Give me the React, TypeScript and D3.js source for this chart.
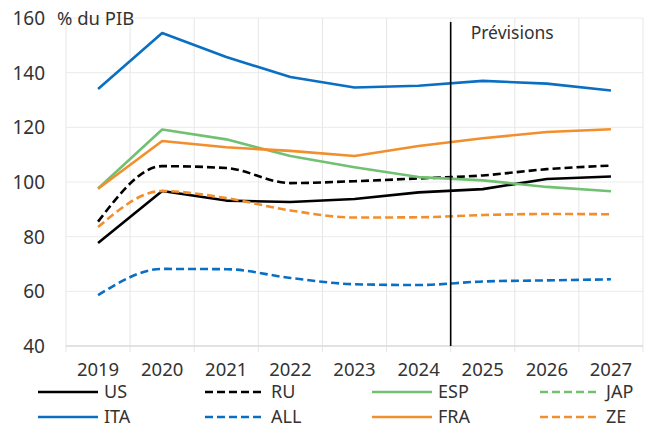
import { useEffect, useRef } from 'react';
import * as d3 from 'd3';

// valeurs (% du PIB)
const years = ['2019', '2020', '2021', '2022', '2023', '2024', '2025', '2026', '2027'];
const usValues = [77.7, 96.7, 93.2, 92.7, 93.8, 96.2, 97.4, 101.1, 102.0];
const ruValues = [85.5, 105.8, 105.1, 99.6, 100.3, 101.3, 102.4, 104.7, 106.0];
const espValues = [97.6, 119.2, 115.6, 109.5, 105.4, 101.8, 100.6, 98.2, 96.6];
const japValues = [236, 258, 253, 260, 255, 251, 248, 245, 243];
const itaValues = [134.0, 154.5, 145.7, 138.4, 134.6, 135.2, 137.0, 136.0, 133.5];
const allValues = [58.6, 68.2, 68.1, 64.9, 62.6, 62.3, 63.6, 64.0, 64.4];
const fraValues = [97.5, 115.0, 112.7, 111.4, 109.5, 113.2, 116.0, 118.3, 119.3];
const zeValues = [83.5, 96.7, 94.1, 89.6, 87.0, 87.1, 87.9, 88.3, 88.2];
const yTicks = [40, 60, 80, 100, 120, 140, 160];

const series = [
  { name: 'US', values: usValues, color: '#000000', dashed: false },
  { name: 'RU', values: ruValues, color: '#000000', dashed: true },
  { name: 'ESP', values: espValues, color: '#72C172', dashed: false },
  { name: 'JAP', values: japValues, color: '#72C172', dashed: true },
  { name: 'ITA', values: itaValues, color: '#0A6FC2', dashed: false },
  { name: 'ALL', values: allValues, color: '#0A6FC2', dashed: true },
  { name: 'FRA', values: fraValues, color: '#F28E2B', dashed: false },
  { name: 'ZE', values: zeValues, color: '#F28E2B', dashed: true },
];

const FONT = '"Noto Sans", sans-serif';
const TEXT = '#333333';

function DebtChart() {
  const svgRef = useRef<SVGSVGElement>(null);

  useEffect(() => {
    const width = 654;
    const height = 428;
    const left = 66, right = 643, top = 18, bottom = 346;

    const svg = d3.select(svgRef.current)
      .attr('width', width)
      .attr('height', height);
    svg.selectAll('*').remove();

    const x = d3.scaleBand().domain(years).range([left, right]);
    const y = d3.scaleLinear().domain([40, 160]).range([bottom, top]);

    svg.append('clipPath').attr('id', 'plot-clip')
      .append('rect')
      .attr('x', left).attr('y', top - 2)
      .attr('width', right - left).attr('height', bottom - top + 2);

    // grille horizontale
    svg.append('g').selectAll('line')
      .data(yTicks.filter(t => t > 40))
      .join('line')
      .attr('x1', left).attr('x2', right)
      .attr('y1', d => y(d)).attr('y2', d => y(d))
      .attr('stroke', '#ebebeb').attr('stroke-width', 1);

    // grille verticale + graduations
    const edges = years.map(yr => x(yr)!).concat([right]);
    svg.append('g').selectAll('line')
      .data(edges)
      .join('line')
      .attr('x1', d => d).attr('x2', d => d)
      .attr('y1', top).attr('y2', bottom + 6)
      .attr('stroke', '#e6e6e6').attr('stroke-width', 1);

    // axe des abscisses
    svg.append('line')
      .attr('x1', left).attr('x2', right)
      .attr('y1', bottom).attr('y2', bottom)
      .attr('stroke', '#d9d9d9').attr('stroke-width', 1.5);

    // labels Y
    svg.append('g').selectAll('text')
      .data(yTicks)
      .join('text')
      .attr('x', 45).attr('y', d => y(d))
      .attr('dy', '0.36em')
      .attr('text-anchor', 'end')
      .attr('font-family', FONT).attr('font-size', 19)
      .attr('fill', TEXT)
      .text(d => d);

    svg.append('text')
      .attr('x', 57).attr('y', y(160))
      .attr('dy', '0.36em')
      .attr('font-family', FONT).attr('font-size', 18.5)
      .attr('fill', TEXT)
      .text('% du PIB');

    // labels X
    svg.append('g').selectAll('text')
      .data(years)
      .join('text')
      .attr('x', d => x(d)! + x.bandwidth() / 2)
      .attr('y', 376)
      .attr('text-anchor', 'middle')
      .attr('font-family', FONT).attr('font-size', 18.5)
      .attr('fill', TEXT)
      .text(d => d);

    // séries
    const plot = svg.append('g').attr('clip-path', 'url(#plot-clip)');
    series.forEach(s => {
      const line = d3.line<number>()
        .x((_, i) => x(years[i])! + x.bandwidth() / 2)
        .y(d => y(d))
        .curve(s.dashed ? d3.curveMonotoneX : d3.curveLinear);
      plot.append('path')
        .datum(s.values)
        .attr('d', line)
        .attr('fill', 'none')
        .attr('stroke', s.color)
        .attr('stroke-width', 2.6)
        .attr('stroke-linejoin', 'round')
        .attr('stroke-dasharray', s.dashed ? '8,4' : null);
    });

    // séparation prévisions
    const sep = x('2025')!;
    svg.append('line')
      .attr('x1', sep).attr('x2', sep)
      .attr('y1', 22).attr('y2', bottom)
      .attr('stroke', '#000').attr('stroke-width', 1.6);
    svg.append('text')
      .attr('x', sep + 20).attr('y', 39)
      .attr('font-family', FONT).attr('font-size', 17.5)
      .attr('fill', TEXT)
      .text('Prévisions');

    // légende
    const colX = [38, 205, 372, 540];
    const rowY = [392, 417];
    const legend = svg.append('g');
    series.forEach((s, i) => {
      const cx = colX[i % 4];
      const cy = rowY[Math.floor(i / 4)];
      legend.append('line')
        .attr('x1', cx).attr('x2', cx + 60)
        .attr('y1', cy).attr('y2', cy)
        .attr('stroke', s.color).attr('stroke-width', 2.6)
        .attr('stroke-dasharray', s.dashed ? '8,4' : null);
      legend.append('text')
        .attr('x', cx + 66).attr('y', cy)
        .attr('dy', '0.35em')
        .attr('font-family', FONT).attr('font-size', 18)
        .attr('fill', TEXT)
        .text(s.name);
    });
  }, []);

  return <svg ref={svgRef} style={{ position: 'absolute', left: 0, top: 0 }}></svg>;
}

export default function App() {
  return <DebtChart />;
}
